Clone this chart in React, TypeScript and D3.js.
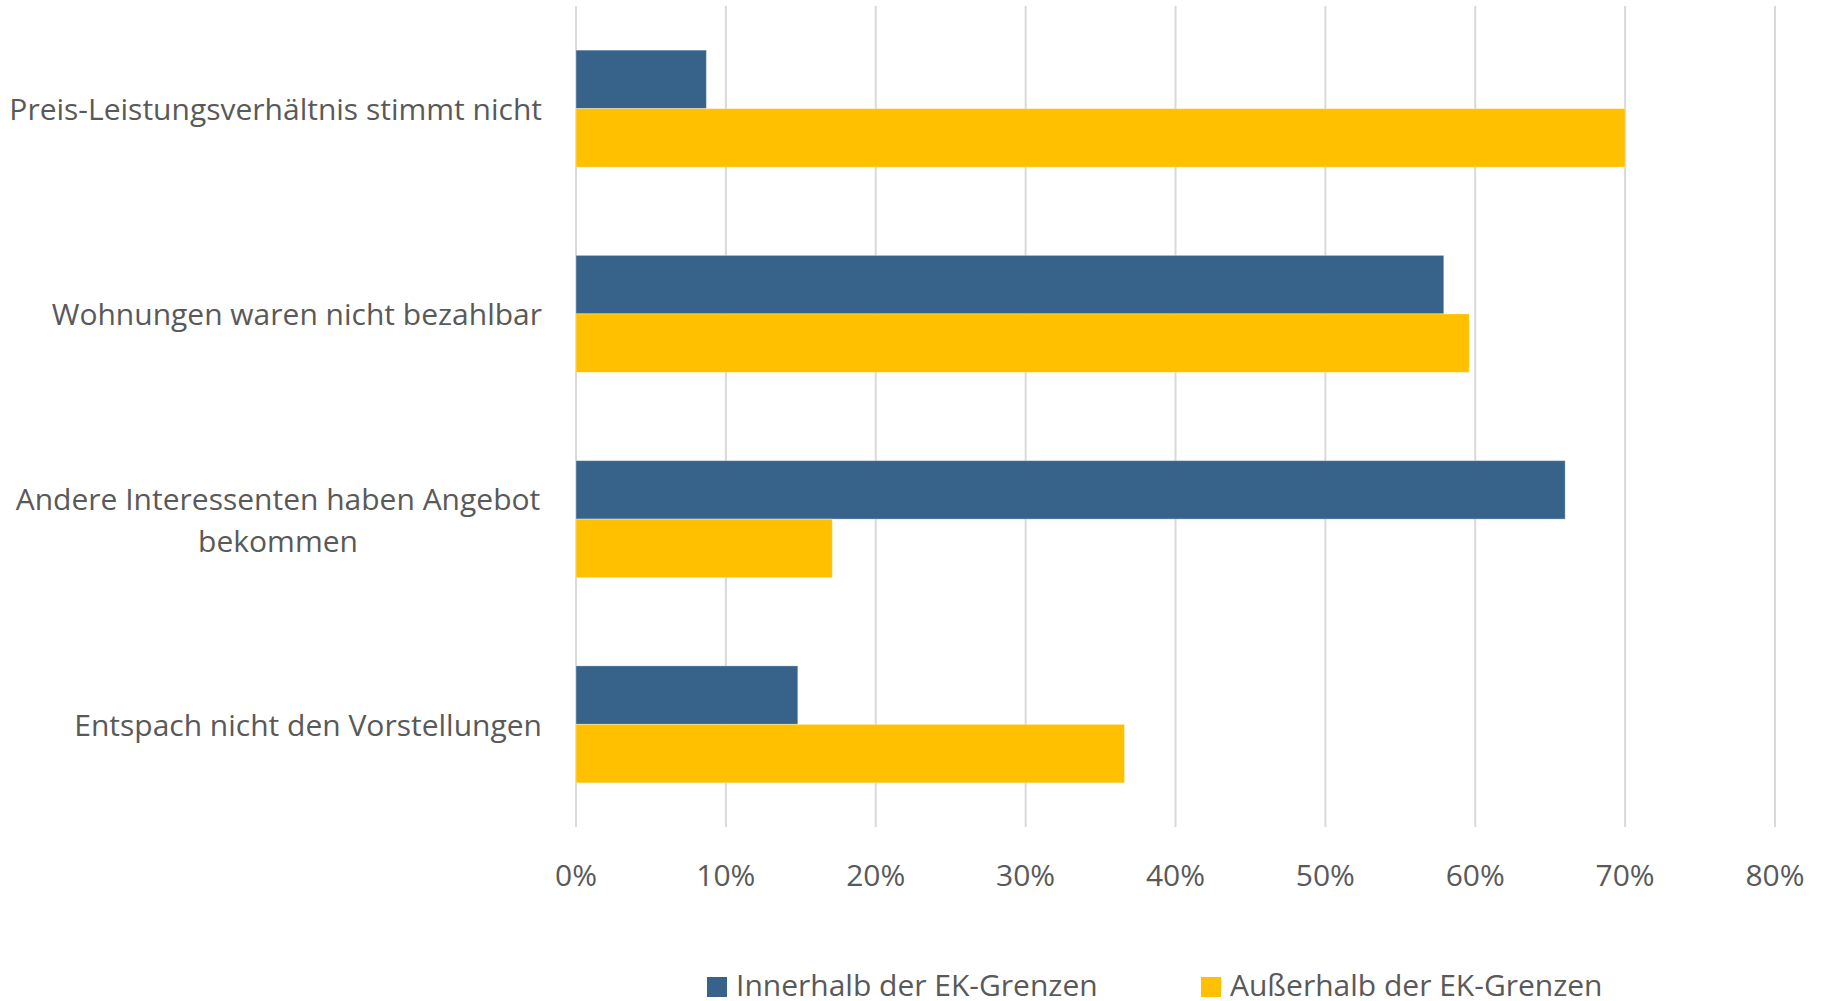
import React from "react";
import * as d3 from "d3";

const categories: string[][] = [
  ["Preis-Leistungsverhältnis stimmt nicht"],
  ["Wohnungen waren nicht bezahlbar"],
  ["Andere Interessenten haben Angebot", "bekommen"],
  ["Entspach nicht den Vorstellungen"],
];
const seriesNames = ["Innerhalb der EK-Grenzen", "Außerhalb der EK-Grenzen"];
const innerhalb = [0.087, 0.579, 0.66, 0.148];
const ausserhalb = [0.70, 0.596, 0.171, 0.366];
const ticks = [0, 0.1, 0.2, 0.3, 0.4, 0.5, 0.6, 0.7, 0.8];

const W = 1824;
const H = 1001;
const FONT = "'Open Sans', 'Noto Sans', sans-serif";
const TEXT = "#595959";
const COLORS = ["#37638A", "#FFC000"];
const FS = 30;

export default function App() {
  const x = d3.scaleLinear().domain([0, 0.8]).range([576, 1775]);
  const y = d3
    .scaleBand<number>()
    .domain(d3.range(categories.length))
    .range([6, 827])
    .paddingInner(0)
    .paddingOuter(0);
  const band = y.bandwidth();
  const barH = band * 0.285;
  const series = [innerhalb, ausserhalb];
  const fmt = d3.format(".0%");

  return (
    <svg
      width={W}
      height={H}
      style={{ position: "absolute", left: 0, top: 0, background: "#fff" }}
      fontFamily={FONT}
    >
      <rect x={0} y={0} width={W} height={H} fill="#fff" />
      {ticks.map((t) => (
        <line
          key={"g" + t}
          x1={x(t)}
          x2={x(t)}
          y1={6}
          y2={827}
          stroke="#d9d9d9"
          strokeWidth={2}
        />
      ))}
      {series.map((vals, si) =>
        vals.map((v, ci) => {
          const cy = (y(ci) as number) + band / 2;
          const top = si === 0 ? cy - barH : cy;
          return (
            <rect
              key={`b${si}-${ci}`}
              x={x(0)}
              y={top}
              width={x(v) - x(0)}
              height={barH}
              fill={COLORS[si]}
              stroke="#ffffff"
              strokeOpacity={0.35}
              strokeWidth={1}
            />
          );
        })
      )}
      {ticks.map((t) => (
        <text
          key={"t" + t}
          x={x(t)}
          y={886}
          textAnchor="middle"
          fontSize={FS}
          fill={TEXT}
        >
          {fmt(t)}
        </text>
      ))}
      {categories.map((lines, ci) => {
        const cy = (y(ci) as number) + band / 2;
        const lh = 42;
        const n = lines.length;
        return (
          <text
            key={"c" + ci}
            fontSize={FS}
            fill={TEXT}
            textAnchor={n > 1 ? "middle" : "end"}
          >
            {lines.map((l, li) => (
              <tspan
                key={li}
                x={n > 1 ? 278 : 542}
                y={cy + (li - (n - 1) / 2) * lh}
                dominantBaseline="central"
              >
                {l}
              </tspan>
            ))}
          </text>
        );
      })}
      {seriesNames.map((s, si) => {
        const lx = si === 0 ? 707 : 1201;
        return (
          <g key={"l" + si}>
            <rect x={lx} y={977} width={20} height={20} fill={COLORS[si]} />
            <text x={lx + 29} y={996} fontSize={FS} fill={TEXT}>
              {s}
            </text>
          </g>
        );
      })}
    </svg>
  );
}
